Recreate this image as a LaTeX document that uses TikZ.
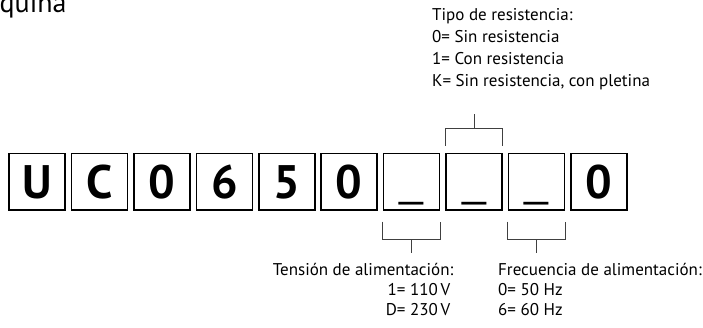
\documentclass[tikz,border=0pt]{standalone}
\usepackage{fontspec}
\setmainfont{PT Sans}
\newfontfamily\usfont{Liberation Sans}
\begin{document}
\begin{tikzpicture}[x=1pt,y=-1pt,
  cell/.style={draw, line width=1.6pt, minimum width=56.1pt, minimum height=56.4pt, inner sep=0pt,
    text height=34pt, text depth=0pt, font=\bfseries\fontsize{47}{47}\selectfont},
  blank/.style={cell, font=\usfont\fontsize{43}{43}\selectfont, text height=29pt},
  brk/.style={draw=black!75, line width=0.9pt},
  lbl/.style={inner sep=0pt, font=\fontsize{17}{17}\selectfont},
  ttl/.style={inner sep=0pt, font=\fontsize{28}{28}\selectfont}]
\useasboundingbox (0,0) rectangle (703,327);
% title fragment
\node[ttl, anchor=base west] (title) at (-0.5,12.7) {quina};
% code boxes
\node[cell] (b1) at (37.15,181.7) {U};
\node[cell] (b2) at (99.55,181.7) {C};
\node[cell] (b3) at (161.95,181.7) {0};
\node[cell] (b4) at (224.35,181.7) {6};
\node[cell] (b5) at (286.75,181.7) {5};
\node[cell] (b6) at (349.15,181.7) {0};
\node[blank] (b7) at (411.55,181.7) {\_};
\node[blank] (b8) at (473.95,181.7) {\_};
\node[blank] (b9) at (536.35,181.7) {\_};
\node[cell] (b10) at (598.75,181.7) {0};
% top label
\node[lbl, anchor=base west] (t1) at (432,20.5) {Tipo de resistencia:};
\node[lbl, anchor=base west] (t2) at (432,42.5) {0= Sin resistencia};
\node[lbl, anchor=base west] (t3) at (432,64.5) {1= Con resistencia};
\node[lbl, anchor=base west] (t4) at (432,86.5) {K= Sin resistencia, con pletina};
% bottom left label
\node[lbl, anchor=base east] (v1) at (453.5,275.5) {Tensión de alimentación:};
\node[lbl, anchor=base east] (v2) at (450.5,295.5) {1= 110\,V};
\node[lbl, anchor=base east] (v3) at (450.5,315.5) {D= 230\,V};
% bottom right label
\node[lbl, anchor=base west] (f1) at (498,275.5) {Frecuencia de alimentación:};
\node[lbl, anchor=base west] (f2) at (498,295.5) {0= 50 Hz};
\node[lbl, anchor=base west] (f3) at (498,315.5) {6= 60 Hz};
% top bracket over b8
\coordinate (k8) at ([yshift=39pt]b8.north);
\draw[brk] ([yshift=7pt]b8.north west) -- ([yshift=24.4pt]b8.north west)
  -- ([yshift=24.4pt]b8.north east) -- ([yshift=7pt]b8.north east);
\draw[brk] ([yshift=24.4pt]b8.north) -- (k8);
% bottom bracket under b7
\coordinate (k7) at ([yshift=-42.6pt]b7.south);
\draw[brk] ([yshift=-11pt]b7.south west) -- ([yshift=-28.3pt]b7.south west)
  -- ([yshift=-28.3pt]b7.south east) -- ([yshift=-11pt]b7.south east);
\draw[brk] ([yshift=-28.3pt]b7.south) -- (k7);
% bottom bracket under b9
\coordinate (k9) at ([yshift=-42.6pt]b9.south);
\draw[brk] ([yshift=-11pt]b9.south west) -- ([yshift=-28.3pt]b9.south west)
  -- ([yshift=-28.3pt]b9.south east) -- ([yshift=-11pt]b9.south east);
\draw[brk] ([yshift=-28.3pt]b9.south) -- (k9);
\end{tikzpicture}
\end{document}
